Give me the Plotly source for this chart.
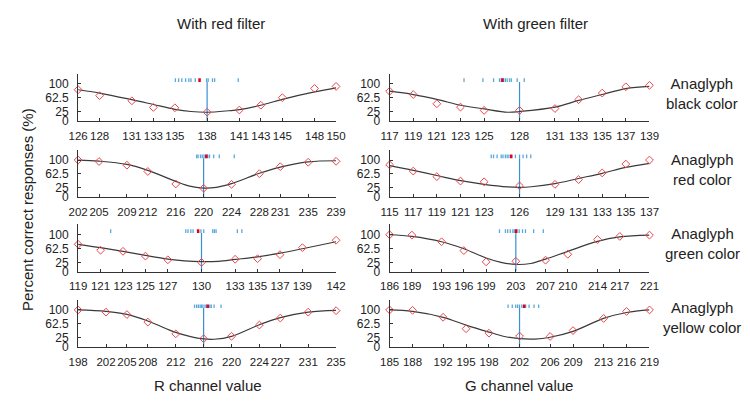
import plotly.graph_objects as go

# ---------------- data ----------------
# Row 1: black color
rk_x = [126, 128, 131, 133, 135, 138, 141, 143, 145, 148, 150]
rk_y = [84, 68, 54, 36, 35, 23, 29, 42, 62.5, 87.5, 93]
rk_cx = [126, 128, 131, 133, 135, 136.5, 138, 140, 141, 143, 145, 148, 150]
rk_cy = [84, 75, 57, 44, 31, 25, 23, 27, 30, 42, 58, 78, 89]
rk_rug = [135.05, 135.35, 135.65, 136.0, 136.3, 136.5, 136.9, 137.95, 138.1, 138.5, 138.7, 140.9]
rk_mean = 137.3
rk_pse = 138

gk_x = [117, 119, 121, 123, 125, 128, 131, 133, 135, 137, 139]
gk_y = [80, 71, 46, 37, 28, 28, 33, 57, 75, 92, 96]
gk_cx = [117, 119, 121, 123, 125, 127, 128, 131, 133, 135, 137, 139]
gk_cy = [80, 71, 58, 42, 32, 23, 25, 37, 55, 71, 87, 93]
gk_rug = [123.3, 124.9, 125.8, 126.3, 126.45, 126.65, 126.8, 126.95, 127.15, 127.3, 127.8, 128.4]
gk_mean = 126.55
gk_pse = 128

# Row 2: red color
rr_x = [202, 205, 209, 212, 216, 220, 224, 228, 231, 235, 239]
rr_y = [100, 96, 86, 69, 35, 23.5, 34, 63, 82, 94, 96.5]
rr_cx = [202, 205, 209, 212, 216, 218, 220, 221.5, 224, 228, 231, 235, 239]
rr_cy = [100, 97, 88, 72, 42, 29, 24, 25, 36, 64, 81, 95, 98]
rr_rug = [219.0, 219.2, 219.55, 219.8, 220.05, 220.25, 220.6, 220.85, 221.45, 222.25, 224.4]
rr_mean = 220.4
rr_pse = 220

gr_x = [115, 117, 119, 121, 123, 126, 129, 131, 133, 135, 137]
gr_y = [87, 70, 55, 43, 41, 30, 34, 47, 65, 89, 100]
gr_cx = [115, 117, 119, 121, 123, 125, 126, 127, 129, 131, 133, 135, 137]
gr_cy = [85, 72, 58, 44, 34, 27, 26, 27.5, 36, 50, 64, 80, 91]
gr_rug = [123.6, 123.8, 124.1, 124.45, 124.6, 124.8, 124.95, 125.1, 125.65, 126.0, 126.3, 126.6, 126.95]
gr_mean = 125.3
gr_pse = 126

# Row 3: green color
rg_x = [119, 121, 123, 125, 127, 130, 133, 135, 137, 139, 142]
rg_y = [74, 58, 55, 42, 32, 25, 33.5, 35, 46, 65, 85]
rg_cx = [119, 121, 123, 125, 127, 128.5, 130, 131.5, 133, 135, 137, 139, 142]
rg_cy = [74, 65, 55, 44, 34, 29, 27, 28, 33, 40, 50, 62, 81]
rg_rug = [121.9, 128.6, 128.8, 129.05, 129.25, 129.95, 130.2, 131.0, 131.15, 131.3, 133.2, 133.6]
rg_mean = 129.7
rg_pse = 130

gg_x = [186, 189, 193, 196, 199, 203, 207, 210, 214, 217, 221]
gg_y = [100, 99, 81, 57, 26.5, 28, 31, 47, 87, 95.5, 99]
gg_cx = [186, 189, 193, 196, 199, 201, 203, 205, 207, 210, 214, 217, 221]
gg_cy = [100, 95.5, 81, 62, 37, 25, 19.5, 22, 34, 55, 82, 94, 99]
gg_rug = [200.8, 201.6, 201.9, 202.25, 202.6, 202.8, 203.1, 203.45, 203.9, 204.3, 205.4, 206.7]
gg_mean = 203.05
gg_pse = 203

# Row 4: yellow color
ry_x = [198, 202, 205, 208, 212, 216, 220, 224, 227, 231, 235]
ry_y = [100, 94, 87.5, 67, 35, 22, 28.5, 59, 78, 94, 98]
ry_cx = [198, 202, 205, 208, 212, 214, 216, 217.5, 220, 224, 227, 231, 235]
ry_cy = [100, 96, 88, 70, 39, 28.5, 21.5, 20.5, 28.5, 60, 79, 94, 99]
ry_rug = [214.7, 215.0, 215.25, 215.5, 215.7, 215.9, 216.2, 216.4, 216.9, 217.1, 217.5, 218.5]
ry_mean = 216.6
ry_pse = 216

gy_x = [185, 188, 192, 195, 198, 202, 206, 209, 213, 216, 219]
gy_y = [100, 99, 80, 49, 37, 29, 28, 44, 77, 96, 100]
gy_cx = [185, 188, 192, 195, 198, 200, 202, 204, 206, 209, 213, 216, 219]
gy_cy = [100, 96, 80, 59, 40, 28, 22, 21, 26, 42, 77, 93, 100]
gy_rug = [200.5, 201.05, 201.5, 201.75, 202.0, 202.3, 202.8, 203.25, 203.9, 204.5]
gy_mean = 202.6
gy_pse = 202

y_ticks = [0, 25, 62.5, 100]
y_tick_text = ["0", "25", "62.5", "100"]
col_titles = ["With red filter", "With green filter"]
row_labels = ["Anaglyph<br>black color", "Anaglyph<br>red color",
              "Anaglyph<br>green color", "Anaglyph<br>yellow color"]
x_titles = ["R channel value", "G channel value"]
y_title = "Percent correct responses (%)"

panels = [
    (rk_x, rk_y, rk_cx, rk_cy, rk_rug, rk_mean, rk_pse),
    (gk_x, gk_y, gk_cx, gk_cy, gk_rug, gk_mean, gk_pse),
    (rr_x, rr_y, rr_cx, rr_cy, rr_rug, rr_mean, rr_pse),
    (gr_x, gr_y, gr_cx, gr_cy, gr_rug, gr_mean, gr_pse),
    (rg_x, rg_y, rg_cx, rg_cy, rg_rug, rg_mean, rg_pse),
    (gg_x, gg_y, gg_cx, gg_cy, gg_rug, gg_mean, gg_pse),
    (ry_x, ry_y, ry_cx, ry_cy, ry_rug, ry_mean, ry_pse),
    (gy_x, gy_y, gy_cx, gy_cy, gy_rug, gy_mean, gy_pse),
]

# ---------------- layout geometry ----------------
W, H = 750, 412
FONT = "Liberation Sans, Arial, sans-serif"
AXC = "#333333"
YMAX = 128
col_px = [(70, 335), (390, 657)]
zero_px = [122.8, 200.3, 276.3, 352.8]
plot_h = 48

fig = go.Figure()
layout = dict(
    width=W, height=H, margin=dict(l=0, r=0, t=0, b=0),
    paper_bgcolor="white", plot_bgcolor="white", showlegend=False,
    font=dict(family=FONT, size=12, color="#222"),
)

for i, (mx, my, cx, cy, rug, mean, pse) in enumerate(panels):
    r, c = divmod(i, 2)
    n = i + 1
    xa = "x" if n == 1 else f"x{n}"
    ya = "y" if n == 1 else f"y{n}"
    xk = "xaxis" if n == 1 else f"xaxis{n}"
    yk = "yaxis" if n == 1 else f"yaxis{n}"
    x0, x1 = col_px[c]
    z = zero_px[r]
    layout[xk] = dict(
        domain=[x0 / W, x1 / W], anchor=ya, range=[mx[0], mx[-1]],
        tickmode="array", tickvals=mx, ticktext=[str(v) for v in mx],
        tickangle=0, ticklabelstandoff=4,
        showline=True, linecolor=AXC, linewidth=1, ticks="inside", ticklen=3,
        tickcolor=AXC, showgrid=False, zeroline=False,
        tickfont=dict(family=FONT, size=11.5, color="#222"),
    )
    layout[yk] = dict(
        domain=[1 - z / H, 1 - (z - plot_h) / H], anchor=xa, range=[0, YMAX],
        tickmode="array", tickvals=y_ticks, ticktext=y_tick_text,
        ticklabelstandoff=6,
        showline=True, linecolor=AXC, linewidth=1, ticks="inside", ticklen=3,
        tickcolor=AXC, showgrid=False, zeroline=False,
        tickfont=dict(family=FONT, size=12, color="#222"),
    )
    # rug of individual values
    rx, ry = [], []
    for v in rug:
        rx += [v, v, None]
        ry += [105, 115, None]
    fig.add_trace(go.Scatter(x=rx, y=ry, mode="lines", xaxis=xa, yaxis=ya,
                             line=dict(color="#5aa9dc", width=1.3),
                             hoverinfo="skip", cliponaxis=False))
    fig.add_trace(go.Scatter(x=[mean, mean], y=[105, 115], mode="lines",
                             xaxis=xa, yaxis=ya,
                             line=dict(color="#e3001b", width=2.5),
                             hoverinfo="skip", cliponaxis=False))
    # vertical line at threshold
    fig.add_trace(go.Scatter(x=[pse, pse], y=[0, 105], mode="lines",
                             xaxis=xa, yaxis=ya,
                             line=dict(color="#3b8ed0", width=1.2),
                             hoverinfo="skip", cliponaxis=False))
    # fitted curve
    fig.add_trace(go.Scatter(x=cx, y=cy, mode="lines", xaxis=xa, yaxis=ya,
                             line=dict(color="#3a3a3a", width=1.2, shape="spline",
                                       smoothing=1.0),
                             cliponaxis=False))
    # observed points
    fig.add_trace(go.Scatter(x=mx, y=my, mode="markers", xaxis=xa, yaxis=ya,
                             marker=dict(symbol="diamond-open", size=6,
                                         color="#e8474d", line=dict(width=1)),
                             cliponaxis=False))

ann = []
title_cx = [217, 540]
for c in range(2):
    ann.append(dict(text=col_titles[c], x=title_cx[c] / W, y=1 - 24 / H,
                    xref="paper", yref="paper", showarrow=False,
                    xanchor="center", yanchor="middle",
                    font=dict(family=FONT, size=15, color="#222")))
xt_cx = [203, 523]
for c in range(2):
    ann.append(dict(text=x_titles[c], x=xt_cx[c] / W, y=1 - 392 / H,
                    xref="paper", yref="paper", showarrow=False,
                    xanchor="center", yanchor="middle",
                    font=dict(family=FONT, size=15, color="#222")))
label_cy = [95, 172, 247.5, 323]
for r in range(4):
    ann.append(dict(text=row_labels[r], x=711 / W, y=1 - label_cy[r] / H,
                    xref="paper", yref="paper", showarrow=False,
                    xanchor="center", yanchor="middle", align="center",
                    font=dict(family=FONT, size=15, color="#222")))
ann.append(dict(text=y_title, x=18 / W, y=1 - 213 / H, xref="paper", yref="paper",
                showarrow=False, textangle=-90, xanchor="center", yanchor="middle",
                font=dict(family=FONT, size=15, color="#222")))
layout["annotations"] = ann

fig.update_layout(**layout)
fig.write_html("out.html")
